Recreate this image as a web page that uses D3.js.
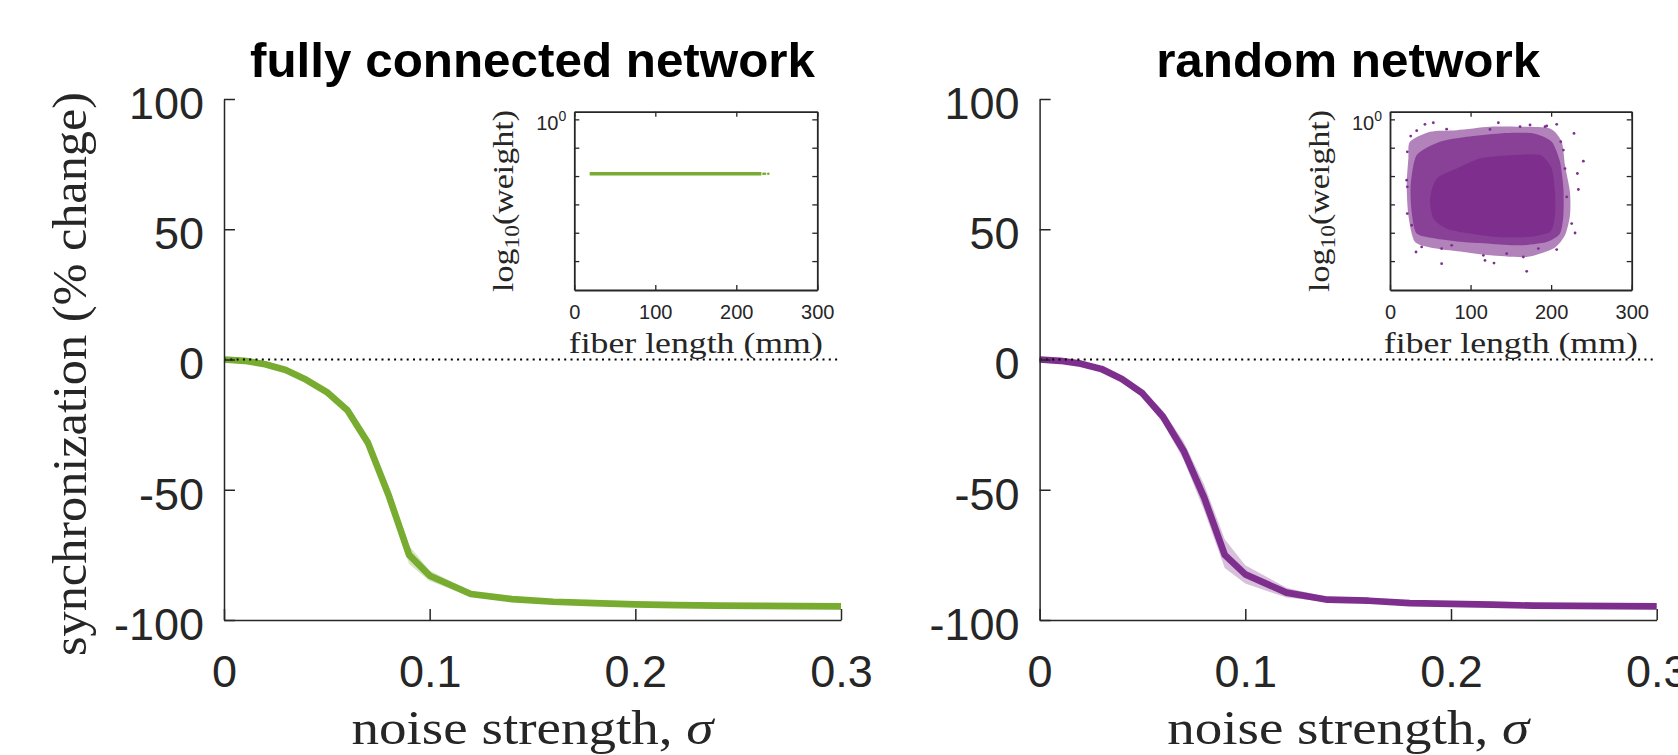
<!DOCTYPE html>
<html>
<head>
<meta charset="utf-8">
<script src="https://cdn.jsdelivr.net/npm/d3@7"></script>
<style>
  body { margin: 0; background: #fff; }
  svg { display: block; }
</style>
</head>
<body>
<div id="chart"></div>
<script>
// noise strength values where synchronization was measured
var sigma = [0, 0.01, 0.02, 0.03, 0.04, 0.05, 0.06, 0.07, 0.08, 0.09, 0.10,
             0.12, 0.14, 0.16, 0.18, 0.20, 0.22, 0.24, 0.26, 0.28, 0.30];

// fully connected network (% change), mean and shaded band
var fullMean  = [0, -0.5, -1.8, -4.0, -7.8, -12.5, -19.5, -32.0, -52.0, -75.0, -83.0,
                 -90.0, -92.0, -93.0, -93.5, -94.0, -94.3, -94.5, -94.6, -94.7, -94.8];
var fullUpper = [0, -0.3, -1.4, -3.5, -7.1, -11.6, -18.3, -29.8, -48.5, -71.5, -81.0,
                 -89.0, -91.4, -92.6, -93.1, -93.6, -94.0, -94.2, -94.3, -94.4, -94.5];
var fullLower = [0, -0.7, -2.2, -4.5, -8.5, -13.4, -20.7, -34.2, -55.5, -78.5, -85.0,
                 -91.0, -92.6, -93.4, -93.9, -94.4, -94.6, -94.8, -94.9, -95.0, -95.1];

// random network (% change)
var randMean  = [0, -0.5, -1.6, -3.6, -7.5, -13.0, -22.0, -35.0, -53.0, -75.0, -82.5,
                 -89.5, -92.2, -92.6, -93.5, -93.8, -94.1, -94.5, -94.6, -94.7, -94.8];
var randUpper = [0, -0.2, -1.1, -2.9, -6.5, -11.5, -19.8, -31.5, -48.0, -69.0, -79.0,
                 -87.6, -91.3, -92.0, -93.0, -93.4, -93.8, -94.2, -94.3, -94.4, -94.5];
var randLower = [0, -0.8, -2.1, -4.3, -8.5, -14.5, -24.2, -38.5, -58.0, -80.0, -86.0,
                 -91.4, -93.1, -93.2, -94.0, -94.2, -94.4, -94.8, -94.9, -95.0, -95.1];

var yTicks = [100, 50, 0, -50, -100];
var xTicks = [0, 0.1, 0.2, 0.3];

// insets: fiber length (mm) vs log10(weight)
var insetXTicks = [0, 100, 200, 300];
var insetYTicks = [0, -0.2, -0.4, -0.6, -0.8, -1.0];

// fully connected: every edge has the same weight
var fullFiberRange = [19, 231];
var fullFiberStray = [233.5, 235.5, 239.5];
var fullLogWeight = -0.384;

// random network: outlines of the point cloud, sparse edge -> dense centre [fiber, log10 weight]
var randHalo = [[24.8, -0.158], [49.7, -0.087], [82.8, -0.076], [124.1, -0.052], [161.4, -0.052],
                [198.6, -0.064], [213.1, -0.158], [217.2, -0.323], [223.4, -0.512], [223.4, -0.677],
                [217.2, -0.818], [202.8, -0.912], [169.7, -0.971], [124.1, -0.959], [91.0, -0.936],
                [57.9, -0.912], [31.0, -0.865], [22.8, -0.677], [20.7, -0.464], [22.8, -0.276]];
var randMid  = [[33.1, -0.252], [62.1, -0.158], [95.2, -0.123], [136.6, -0.099], [177.9, -0.099],
                [200.7, -0.158], [211.0, -0.300], [215.2, -0.488], [215.2, -0.677], [211.0, -0.806],
                [194.5, -0.865], [161.4, -0.889], [124.1, -0.877], [91.0, -0.865], [57.9, -0.842],
                [33.1, -0.806], [26.9, -0.653], [25.7, -0.464]];
var randCore = [[82.8, -0.347], [111.7, -0.276], [153.1, -0.252], [186.2, -0.252], [200.7, -0.347],
                [204.8, -0.512], [204.8, -0.677], [198.6, -0.794], [169.7, -0.830], [132.4, -0.830],
                [99.3, -0.806], [70.3, -0.771], [53.8, -0.700], [49.7, -0.559], [57.9, -0.417]];
var randStray = [[53.8, -0.024], [43.4, -0.035], [70.3, -0.069], [33.1, -0.080], [25.7, -0.118],
                 [21.5, -0.229], [20.7, -0.429], [21.5, -0.476], [32.3, -0.936], [64.1, -0.912],
                 [64.1, -1.018], [129.1, -1.014], [115.9, -0.959], [117.9, -0.995], [169.7, -1.072],
                 [184.1, -0.912], [206.9, -0.919], [229.7, -0.802], [225.5, -0.735], [233.8, -0.495],
                 [240.0, -0.295], [232.6, -0.382], [228.4, -0.099], [206.9, -0.035], [194.5, -0.047],
                 [173.8, -0.040], [134.5, -0.024], [124.1, -0.071], [161.4, -0.052], [217.2, -0.347],
                 [215.2, -0.217], [219.3, -0.547], [39.3, -0.900], [26.9, -0.747], [21.5, -0.665],
                 [76.6, -0.889], [144.8, -0.948], [165.5, -0.971], [192.4, -0.052], [211.9, -0.158]];

var W = 1678, H = 755;
var axisColor = "#262626";
var sans = "'Liberation Sans', Arial, sans-serif";
var serif = "'Liberation Serif', 'Times New Roman', serif";

var svg = d3.select("#chart").append("svg")
    .attr("width", W)
    .attr("height", H);

var panels = [
  {title: "fully connected network", titleLen: 565, left: 224, right: 841, color: "#77AC30",
   mean: fullMean, upper: fullUpper, lower: fullLower, yLabel: true,
   inset: {left: 574.3, right: 817.3, kind: "full"}},
  {title: "random network", titleLen: 384, left: 1039.6, right: 1656.7, color: "#7E2F8E",
   mean: randMean, upper: randUpper, lower: randLower, yLabel: false,
   inset: {left: 1390, right: 1631.7, kind: "rand"}}
];

function styleAxis(g, size) {
  g.attr("font-family", sans).attr("font-size", size);
  g.select(".domain").attr("stroke", axisColor).attr("stroke-width", 1.5);
  g.selectAll(".tick line").attr("stroke", axisColor).attr("stroke-width", 1.5);
  g.selectAll(".tick text").attr("fill", axisColor);
}

panels.forEach(function(p) {
  var x = d3.scaleLinear().domain([0, 0.3]).range([p.left, p.right]);
  var y = d3.scaleLinear().domain([-100, 100]).range([620, 99]);
  var cx = (p.left + p.right) / 2;

  var rows = sigma.map(function(s, i) {
    return {s: s, m: p.mean[i], hi: p.upper[i], lo: p.lower[i]};
  });

  // shaded band
  svg.append("path")
    .datum(rows)
    .attr("d", d3.area()
      .x(function(d) { return x(d.s); })
      .y0(function(d) { return y(d.lo); })
      .y1(function(d) { return y(d.hi); }))
    .attr("fill", p.color)
    .attr("fill-opacity", 0.3);

  // mean curve
  svg.append("path")
    .datum(rows)
    .attr("d", d3.line()
      .x(function(d) { return x(d.s); })
      .y(function(d) { return y(d.m); }))
    .attr("fill", "none")
    .attr("stroke", p.color)
    .attr("stroke-width", 6.7)
    .attr("stroke-linejoin", "round");

  // dotted zero line
  svg.append("line")
    .attr("x1", x(0)).attr("x2", x(0.3))
    .attr("y1", y(0)).attr("y2", y(0))
    .attr("stroke", "#000")
    .attr("stroke-width", 2.2)
    .attr("stroke-dasharray", "2,4.3");

  // axes (MATLAB style ticks pointing inward)
  var gy = svg.append("g")
    .attr("transform", "translate(" + p.left + ",0)")
    .call(d3.axisLeft(y).tickValues(yTicks).tickSizeInner(-11).tickSizeOuter(0)
      .tickPadding(20).tickFormat(function(d) { return String(d); }));
  styleAxis(gy, 45);
  gy.selectAll(".tick text").attr("dy", "0.43em");

  var gx = svg.append("g")
    .attr("transform", "translate(0,620)")
    .call(d3.axisBottom(x).tickValues(xTicks).tickSizeInner(-11).tickSizeOuter(0)
      .tickPadding(35).tickFormat(function(d) { return String(d); }));
  styleAxis(gx, 45);

  // title
  svg.append("text")
    .attr("x", cx).attr("y", 77)
    .attr("text-anchor", "middle")
    .attr("font-family", sans)
    .attr("font-weight", "bold")
    .attr("font-size", 48)
    .attr("fill", "#000")
    .attr("textLength", p.titleLen)
    .attr("lengthAdjust", "spacingAndGlyphs")
    .text(p.title);

  // x label
  var xl = svg.append("text")
    .attr("x", cx).attr("y", 744)
    .attr("text-anchor", "middle")
    .attr("font-family", serif)
    .attr("font-size", 49)
    .attr("fill", axisColor)
    .attr("textLength", 362)
    .attr("lengthAdjust", "spacingAndGlyphs");
  xl.append("tspan").text("noise strength, ");
  xl.append("tspan").attr("font-style", "italic").text("σ");

  if (p.yLabel) {
    svg.append("text")
      .attr("transform", "translate(86,374) rotate(-90)")
      .attr("text-anchor", "middle")
      .attr("font-family", serif)
      .attr("font-size", 48)
      .attr("fill", axisColor)
      .attr("textLength", 564)
      .attr("lengthAdjust", "spacingAndGlyphs")
      .text("synchronization (% change)");
  }

  drawInset(p);
});

function drawInset(p) {
  var ins = p.inset;
  var ix = d3.scaleLinear().domain([0, 300]).range([ins.left, ins.right]);
  var iy = d3.scaleLinear().domain([-1.204, 0.054]).range([290, 111.7]);

  svg.append("rect")
    .attr("x", ins.left).attr("y", 111.7)
    .attr("width", ins.right - ins.left).attr("height", 290 - 111.7)
    .attr("fill", "#fff");

  if (ins.kind === "full") {
    svg.append("line")
      .attr("x1", ix(fullFiberRange[0])).attr("x2", ix(fullFiberRange[1]))
      .attr("y1", iy(fullLogWeight)).attr("y2", iy(fullLogWeight))
      .attr("stroke", p.color)
      .attr("stroke-width", 3.5);
    svg.selectAll(".fullStray")
      .data(fullFiberStray)
      .enter().append("circle")
      .attr("class", "fullStray")
      .attr("cx", function(d) { return ix(d); })
      .attr("cy", iy(fullLogWeight))
      .attr("r", 1.3)
      .attr("fill", p.color);
  } else {
    var poly = d3.line()
      .x(function(d) { return ix(d[0]); })
      .y(function(d) { return iy(d[1]); })
      .curve(d3.curveCardinalClosed.tension(0.3));
    svg.append("path").attr("d", poly(randHalo))
      .attr("fill", p.color).attr("fill-opacity", 0.6);
    svg.append("path").attr("d", poly(randMid))
      .attr("fill", p.color).attr("fill-opacity", 0.8);
    svg.append("path").attr("d", poly(randCore))
      .attr("fill", p.color);
    svg.selectAll(".randStray")
      .data(randStray)
      .enter().append("circle")
      .attr("class", "randStray")
      .attr("cx", function(d) { return ix(d[0]); })
      .attr("cy", function(d) { return iy(d[1]); })
      .attr("r", 1.4)
      .attr("fill", p.color);
  }

  var gb = svg.append("g").attr("transform", "translate(0,290)")
    .call(d3.axisBottom(ix).tickValues(insetXTicks).tickSizeInner(-5).tickSizeOuter(0).tickPadding(15));
  var gt = svg.append("g").attr("transform", "translate(0,111.7)")
    .call(d3.axisTop(ix).tickValues(insetXTicks).tickSizeInner(-5).tickSizeOuter(0).tickFormat(""));
  var gl = svg.append("g").attr("transform", "translate(" + ins.left + ",0)")
    .call(d3.axisLeft(iy).tickValues(insetYTicks).tickSizeInner(-5).tickSizeOuter(0).tickFormat(""));
  var gr = svg.append("g").attr("transform", "translate(" + ins.right + ",0)")
    .call(d3.axisRight(iy).tickValues(insetYTicks).tickSizeInner(-5).tickSizeOuter(0).tickFormat(""));
  [gb, gt, gl, gr].forEach(function(g) {
    styleAxis(g, 20);
    g.select(".domain").attr("stroke-width", 1.8);
    g.selectAll(".tick line").attr("stroke-width", 1.3);
  });

  // 10^0 label
  var lab = svg.append("text")
    .attr("x", ins.left - 8).attr("y", iy(0) + 11)
    .attr("text-anchor", "end")
    .attr("font-family", sans)
    .attr("font-size", 20)
    .attr("fill", axisColor);
  lab.append("tspan").text("10");
  lab.append("tspan").attr("font-size", 14).attr("dy", -9).text("0");

  // inset axis labels
  svg.append("text")
    .attr("x", (ins.left + ins.right) / 2).attr("y", 353)
    .attr("text-anchor", "middle")
    .attr("font-family", serif)
    .attr("font-size", 30)
    .attr("fill", axisColor)
    .attr("textLength", 254)
    .attr("lengthAdjust", "spacingAndGlyphs")
    .text("fiber length (mm)");

  var yl = svg.append("text")
    .attr("transform", "translate(" + (ins.left - 61) + ",201) rotate(-90)")
    .attr("text-anchor", "middle")
    .attr("font-family", serif)
    .attr("font-size", 29)
    .attr("fill", axisColor)
    .attr("textLength", 182)
    .attr("lengthAdjust", "spacingAndGlyphs");
  yl.append("tspan").text("log");
  yl.append("tspan").attr("font-size", 20).attr("dy", 6).text("10");
  yl.append("tspan").attr("dy", -6).text("(weight)");
}
</script>
</body>
</html>
